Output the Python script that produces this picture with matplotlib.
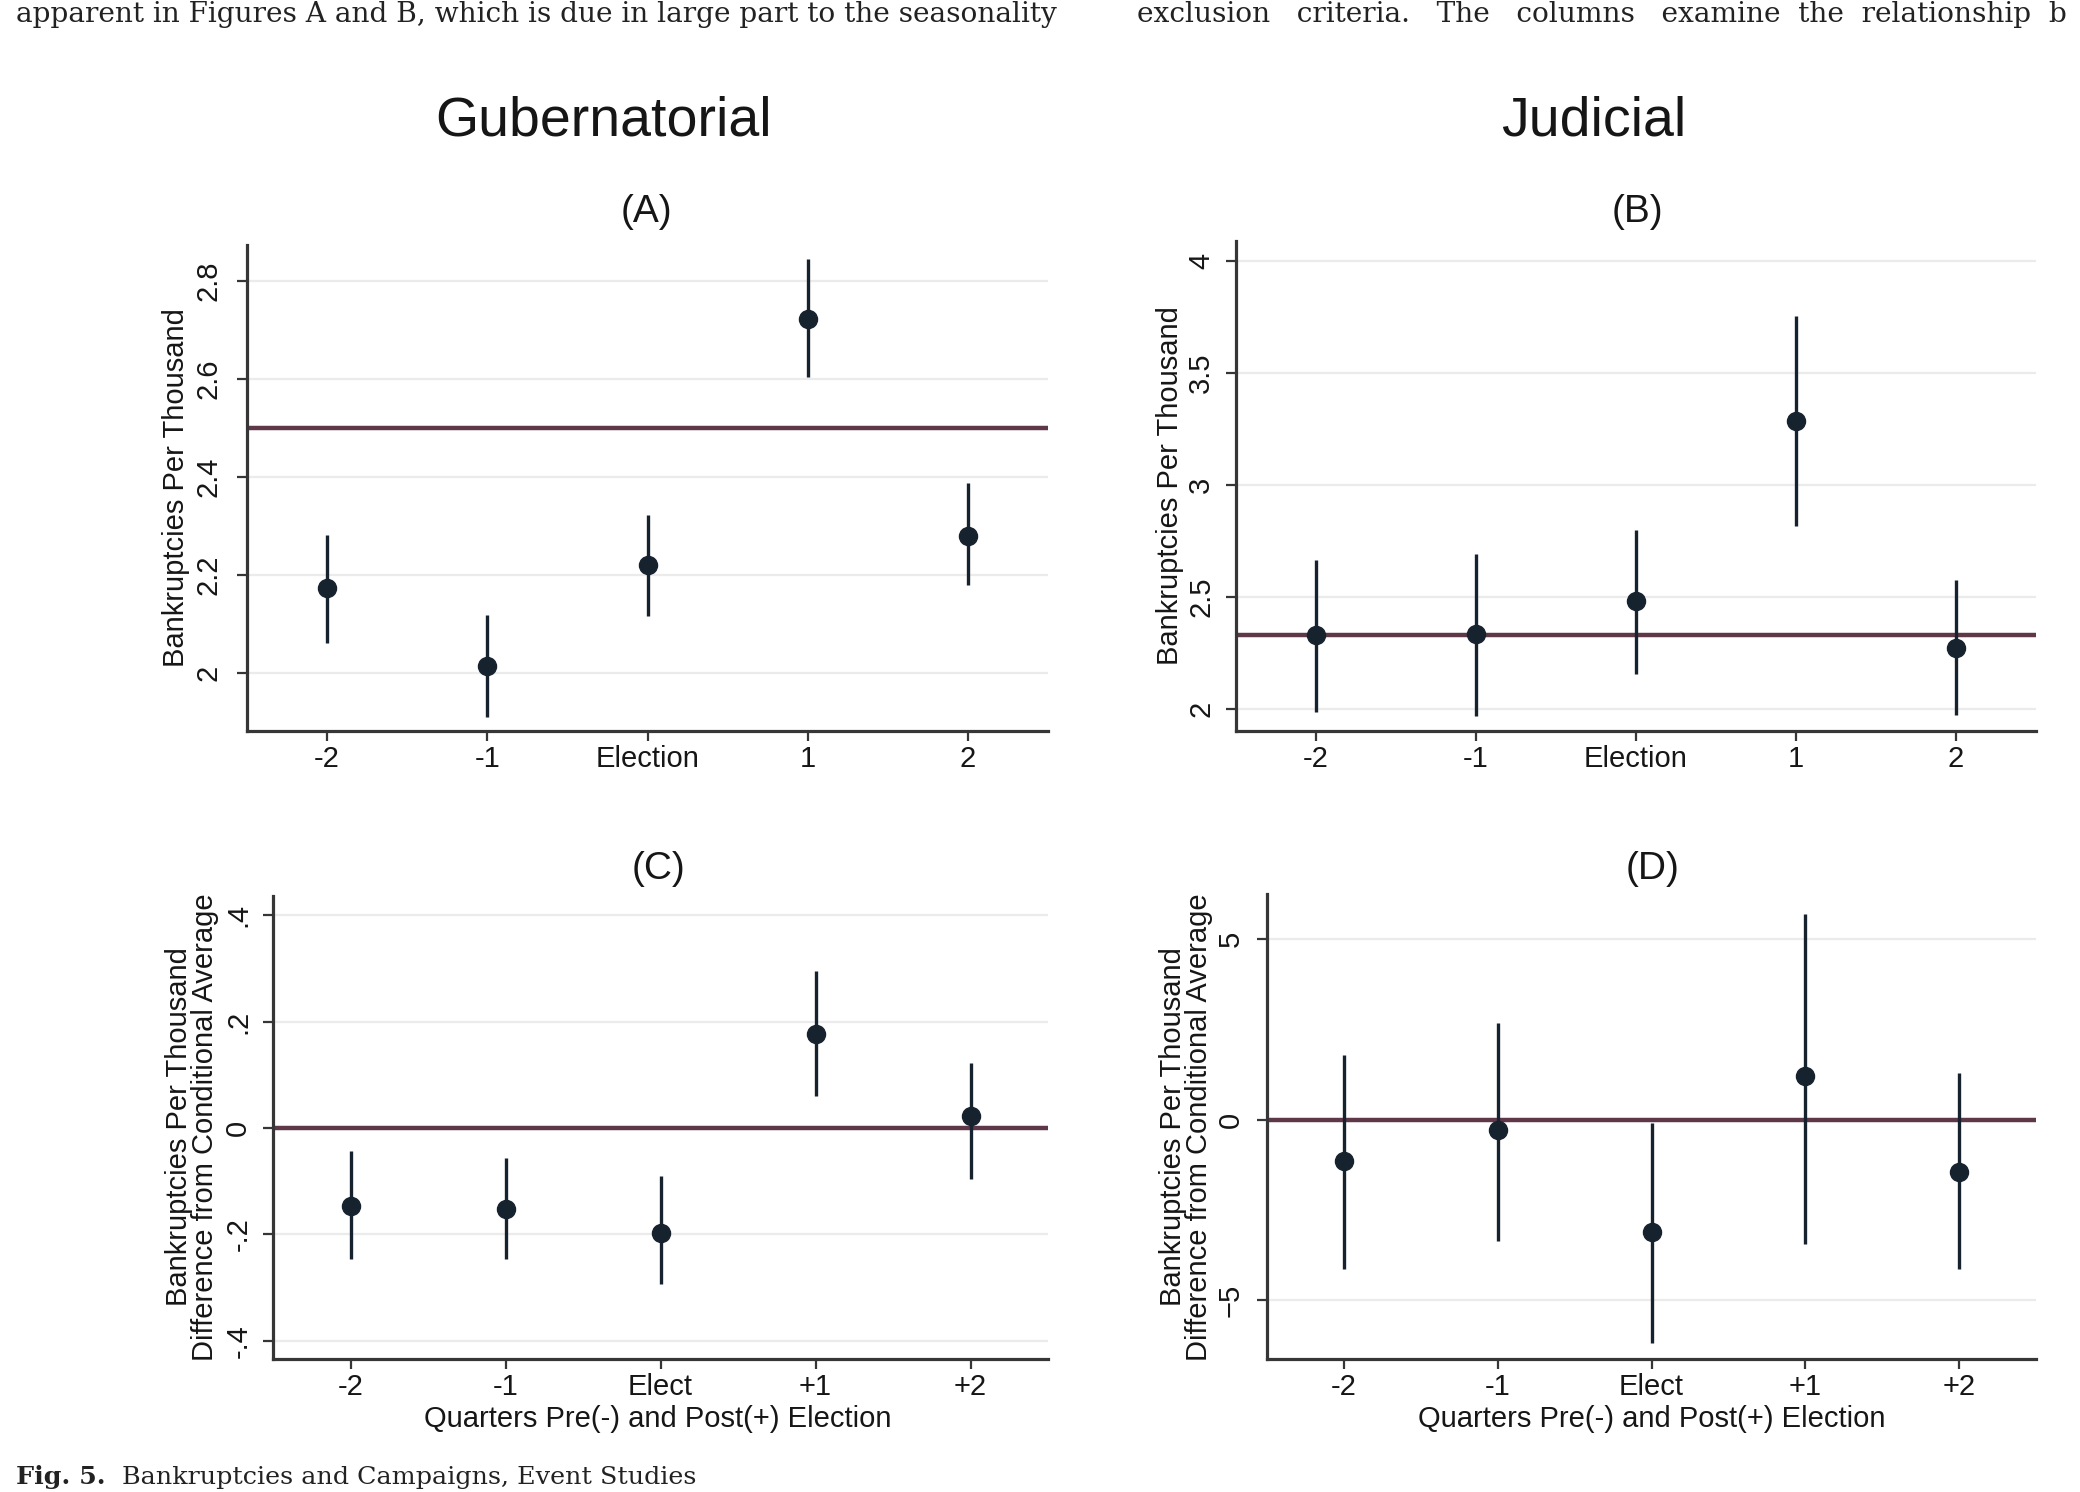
import matplotlib
matplotlib.use("Agg")
import matplotlib.pyplot as plt
from matplotlib import font_manager

# ---------------- data ----------------
periods = [-2, -1, 0, 1, 2]
labels_top = ["-2", "-1", "Election", "1", "2"]
labels_bottom = ["-2", "-1", "Elect", "+1", "+2"]

gub_est = [2.172, 2.013, 2.220, 2.721, 2.279]
gub_lo = [2.060, 1.909, 2.116, 2.604, 2.180]
gub_hi = [2.281, 2.118, 2.321, 2.844, 2.387]
gub_mean = 2.50

jud_est = [2.329, 2.332, 2.481, 3.286, 2.273]
jud_lo = [1.985, 1.969, 2.153, 2.817, 1.970]
jud_hi = [2.665, 2.689, 2.800, 3.753, 2.577]
jud_mean = 2.33

gubd_est = [-0.147, -0.153, -0.198, 0.177, 0.022]
gubd_lo = [-0.247, -0.247, -0.294, 0.061, -0.095]
gubd_hi = [-0.044, -0.057, -0.091, 0.295, 0.122]
gubd_ref = 0.0

judd_est = [-1.15, -0.30, -3.10, 1.20, -1.45]
judd_lo = [-4.15, -3.35, -6.20, -3.45, -4.15]
judd_hi = [1.80, 2.68, -0.10, 5.70, 1.28]
judd_ref = 0.0

yt_a = [2.0, 2.2, 2.4, 2.6, 2.8]
yl_a = ["2", "2.2", "2.4", "2.6", "2.8"]
yt_b = [2.0, 2.5, 3.0, 3.5, 4.0]
yl_b = ["2", "2.5", "3", "3.5", "4"]
yt_c = [-0.4, -0.2, 0.0, 0.2, 0.4]
yl_c = ["-.4", "-.2", "0", ".2", ".4"]
yt_d = [-5, 0, 5]
yl_d = ["\u22125", "0", "5"]

# ---------------- styling ----------------
W, H = 2080, 1492
names = {f.name for f in font_manager.fontManager.ttflist}
if "Liberation Sans Narrow" in names:
    AX_FAM, AX_SIZE = "Liberation Sans Narrow", 25
else:
    AX_FAM, AX_SIZE = "Liberation Sans", 21
TITLE_FAM = "Liberation Sans"
TXT = "#161616"

DOT = "#16222e"
REF = "#5e3848"
SPINE = "#363636"
GRID = "#ebebeb"

fig = plt.figure(figsize=(W / 100, H / 100), dpi=100)
fig.patch.set_facecolor("white")


def px_axes(l, t, r, b):
    return fig.add_axes([l / W, 1 - b / H, (r - l) / W, (b - t) / H])


def panel(ax, est, lo, hi, ref, ylim, yt, yl, xl, ypad):
    ax.set_xlim(-2.5, 2.5)
    ax.set_ylim(*ylim)
    ax.set_yticks(yt)
    ax.set_yticklabels(yl)
    ax.set_xticks(periods)
    ax.set_xticklabels(xl)
    for s in ["top", "right"]:
        ax.spines[s].set_visible(False)
    for s in ["left", "bottom"]:
        ax.spines[s].set_color(SPINE)
        ax.spines[s].set_linewidth(2.3)
    ax.tick_params(axis="both", direction="out", length=7, width=1.6,
                   color=SPINE, labelsize=AX_SIZE, labelcolor=TXT)
    ax.tick_params(axis="x", pad=3)
    ax.tick_params(axis="y", pad=ypad)
    for lab in ax.get_yticklabels():
        lab.set_rotation(90)
        lab.set_ha("center")
        lab.set_va("center")
        lab.set_family(AX_FAM)
    for lab in ax.get_xticklabels():
        lab.set_family(AX_FAM)
    ax.yaxis.grid(True, color=GRID, lw=1.6)
    ax.set_axisbelow(True)
    ax.axhline(ref, color=REF, lw=3.2, zorder=2)
    ax.vlines(periods, lo, hi, color=DOT, lw=2.4, zorder=3)
    ax.plot(periods, est, "o", color=DOT, ms=13, zorder=4)


axA = px_axes(247, 245, 1048, 731)
axB = px_axes(1236, 241, 2036, 731)
axC = px_axes(273, 896, 1048, 1359)
axD = px_axes(1267, 894, 2036, 1359)

panel(axA, gub_est, gub_lo, gub_hi, gub_mean, (1.881, 2.873), yt_a, yl_a, labels_top, 21)
panel(axB, jud_est, jud_lo, jud_hi, jud_mean, (1.90, 4.09), yt_b, yl_b, labels_top, 18)
panel(axC, gubd_est, gubd_lo, gubd_hi, gubd_ref, (-0.434, 0.436), yt_c, yl_c, labels_bottom, 18)
panel(axD, judd_est, judd_lo, judd_hi, judd_ref, (-6.63, 6.25), yt_d, yl_d, labels_bottom, 19)


def ftext(x, y, s, **kw):
    fig.text(x / W, 1 - y / H, s, **kw)


# column titles and panel letters
ftext(604, 122, "Gubernatorial", family=TITLE_FAM, fontsize=40, ha="center", va="center", color=TXT)
ftext(1594, 122, "Judicial", family=TITLE_FAM, fontsize=40, ha="center", va="center", color=TXT)
ftext(646, 212, "(A)", family=TITLE_FAM, fontsize=28, ha="center", va="center", color=TXT)
ftext(1637, 212, "(B)", family=TITLE_FAM, fontsize=28, ha="center", va="center", color=TXT)
ftext(659, 869, "(C)", family=TITLE_FAM, fontsize=28, ha="center", va="center", color=TXT)
ftext(1653, 869, "(D)", family=TITLE_FAM, fontsize=28, ha="center", va="center", color=TXT)

# y labels
ftext(176, 488, "Bankruptcies Per Thousand", family=AX_FAM, fontsize=AX_SIZE,
      rotation=90, ha="center", va="center", color=TXT)
ftext(1170, 486, "Bankruptcies Per Thousand", family=AX_FAM, fontsize=AX_SIZE,
      rotation=90, ha="center", va="center", color=TXT)
ftext(192, 1127, "Bankruptcies Per Thousand\nDifference from Conditional Average", family=AX_FAM,
      fontsize=AX_SIZE, rotation=90, ha="center", va="center", linespacing=0.95, color=TXT)
ftext(1186, 1127, "Bankruptcies Per Thousand\nDifference from Conditional Average", family=AX_FAM,
      fontsize=AX_SIZE, rotation=90, ha="center", va="center", linespacing=0.95, color=TXT)

# x labels
ftext(658, 1419, "Quarters Pre(-) and Post(+) Election", family=AX_FAM, fontsize=AX_SIZE,
      ha="center", va="center", color=TXT)
ftext(1652, 1419, "Quarters Pre(-) and Post(+) Election", family=AX_FAM, fontsize=AX_SIZE,
      ha="center", va="center", color=TXT)

# surrounding page text (cropped in the original scan)
ftext(16, 22, "apparent in Figures A and B, which is due in large part to the seasonality",
      family="DejaVu Serif", fontsize=20.2, ha="left", va="baseline", color="#222222")
ftext(1137, 22, "exclusion   criteria.   The   columns   examine  the  relationship  b",
      family="DejaVu Serif", fontsize=20.2, ha="left", va="baseline", color="#222222")
ftext(16, 1489, "Fig. 5.", family="DejaVu Serif", fontsize=18.3, fontweight="bold",
      ha="left", va="bottom", color="#222222")
ftext(122, 1489, "Bankruptcies and Campaigns, Event Studies", family="DejaVu Serif",
      fontsize=18.3, ha="left", va="bottom", color="#222222")

fig.savefig("out.png", dpi=100, facecolor="white")
